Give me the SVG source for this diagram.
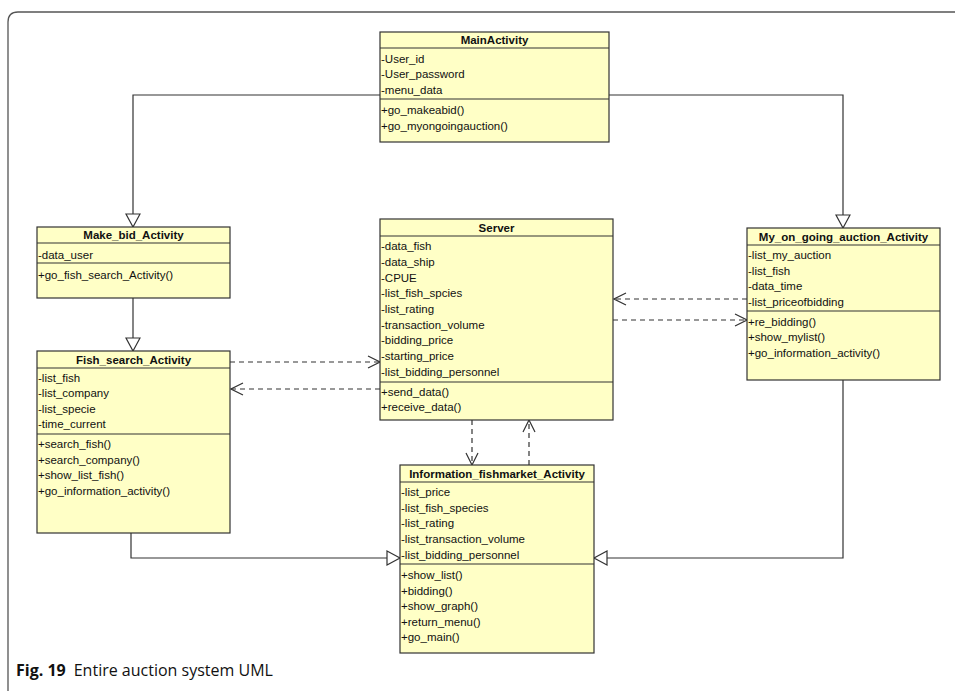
<svg xmlns="http://www.w3.org/2000/svg" width="955" height="691" viewBox="0 0 955 691">
<defs>
<style>
.box{fill:#ffffc6;stroke:#333;stroke-width:1.2}
.sep{stroke:#333;stroke-width:1.2}
.t{font-family:"Liberation Sans",Arial,sans-serif;font-size:11.5px;fill:#111}
.h{font-family:"Liberation Sans",Arial,sans-serif;font-size:11.5px;font-weight:bold;fill:#111;text-anchor:middle}
.ln{fill:none;stroke:#333;stroke-width:1.2}
.dl{fill:none;stroke:#333;stroke-width:1.2;stroke-dasharray:5,4}
.cap{font-family:"Open Sans","Liberation Sans",sans-serif;font-size:16px;fill:#111}
</style>
<marker id="gen" markerWidth="16" markerHeight="16" refX="14" refY="8" orient="auto" markerUnits="userSpaceOnUse">
<path d="M1,1 L14,8 L1,15 Z" fill="#fff" stroke="#333" stroke-width="1.2"/>
</marker>
<marker id="dep" markerWidth="14" markerHeight="14" refX="13" refY="7" orient="auto" markerUnits="userSpaceOnUse">
<path d="M1,1 L13,7 L1,13" fill="none" stroke="#333" stroke-width="1.2"/>
</marker>
</defs>
<rect width="955" height="691" fill="#fff"/>
<path d="M8,691 L8,22 Q8,12 18,12 L955,12" fill="none" stroke="#555" stroke-width="1.3"/>

<g id="connectors">
<path class="ln" d="M380,95 L133,95 L133,227" marker-end="url(#gen)"/>
<path class="ln" d="M609,95 L843,95 L843,228" marker-end="url(#gen)"/>
<path class="ln" d="M133,298 L133,351" marker-end="url(#gen)"/>
<path class="ln" d="M131,533 L131,558 L400,558" marker-end="url(#gen)"/>
<path class="ln" d="M843,380 L843,558 L594,558" marker-end="url(#gen)"/>
<path class="dl" d="M230,362 L380,362" marker-end="url(#dep)"/>
<path class="dl" d="M380,389 L231,389" marker-end="url(#dep)"/>
<path class="dl" d="M747,299 L614,299" marker-end="url(#dep)"/>
<path class="dl" d="M613,320 L747,320" marker-end="url(#dep)"/>
<path class="dl" d="M472,420 L472,465" marker-end="url(#dep)"/>
<path class="dl" d="M529,465 L529,420" marker-end="url(#dep)"/>
</g>

<g id="MainActivity">
<rect class="box" x="380" y="32" width="229" height="110"/>
<line class="sep" x1="380" y1="48" x2="609" y2="48"/>
<line class="sep" x1="380" y1="99" x2="609" y2="99"/>
<text class="h" x="494.5" y="44">MainActivity</text>
<text class="t" x="381" y="63">-User_id</text>
<text class="t" x="381" y="78">-User_password</text>
<text class="t" x="381" y="94">-menu_data</text>
<text class="t" x="381" y="114">+go_makeabid()</text>
<text class="t" x="381" y="130">+go_myongoingauction()</text>
</g>

<g id="Make_bid_Activity">
<rect class="box" x="37" y="227" width="193" height="71"/>
<line class="sep" x1="37" y1="243" x2="230" y2="243"/>
<line class="sep" x1="37" y1="263" x2="230" y2="263"/>
<text class="h" x="133.5" y="239">Make_bid_Activity</text>
<text class="t" x="38" y="259">-data_user</text>
<text class="t" x="38" y="279">+go_fish_search_Activity()</text>
</g>

<g id="Server">
<rect class="box" x="380" y="219" width="233" height="201"/>
<line class="sep" x1="380" y1="236" x2="613" y2="236"/>
<line class="sep" x1="380" y1="382" x2="613" y2="382"/>
<text class="h" x="496.5" y="232">Server</text>
<text class="t" x="381" y="250">-data_fish</text>
<text class="t" x="381" y="266">-data_ship</text>
<text class="t" x="381" y="282">-CPUE</text>
<text class="t" x="381" y="297">-list_fish_spcies</text>
<text class="t" x="381" y="313">-list_rating</text>
<text class="t" x="381" y="329">-transaction_volume</text>
<text class="t" x="381" y="344">-bidding_price</text>
<text class="t" x="381" y="360">-starting_price</text>
<text class="t" x="381" y="376">-list_bidding_personnel</text>
<text class="t" x="381" y="396">+send_data()</text>
<text class="t" x="381" y="411">+receive_data()</text>
</g>

<g id="My_on_going_auction_Activity">
<rect class="box" x="747" y="228" width="193" height="152"/>
<line class="sep" x1="747" y1="245" x2="940" y2="245"/>
<line class="sep" x1="747" y1="311" x2="940" y2="311"/>
<text class="h" x="843.5" y="241">My_on_going_auction_Activity</text>
<text class="t" x="748" y="259">-list_my_auction</text>
<text class="t" x="748" y="275">-list_fish</text>
<text class="t" x="748" y="290">-data_time</text>
<text class="t" x="748" y="306">-list_priceofbidding</text>
<text class="t" x="748" y="326">+re_bidding()</text>
<text class="t" x="748" y="341">+show_mylist()</text>
<text class="t" x="748" y="357">+go_information_activity()</text>
</g>

<g id="Fish_search_Activity">
<rect class="box" x="37" y="351" width="193" height="182"/>
<line class="sep" x1="37" y1="368" x2="230" y2="368"/>
<line class="sep" x1="37" y1="434" x2="230" y2="434"/>
<text class="h" x="133.5" y="364">Fish_search_Activity</text>
<text class="t" x="38" y="382">-list_fish</text>
<text class="t" x="38" y="397">-list_company</text>
<text class="t" x="38" y="413">-list_specie</text>
<text class="t" x="38" y="428">-time_current</text>
<text class="t" x="38" y="448">+search_fish()</text>
<text class="t" x="38" y="464">+search_company()</text>
<text class="t" x="38" y="479">+show_list_fish()</text>
<text class="t" x="38" y="495">+go_information_activity()</text>
</g>

<g id="Information_fishmarket_Activity">
<rect class="box" x="400" y="465" width="194" height="188"/>
<line class="sep" x1="400" y1="482" x2="594" y2="482"/>
<line class="sep" x1="400" y1="564" x2="594" y2="564"/>
<text class="h" x="497" y="478">Information_fishmarket_Activity</text>
<text class="t" x="401" y="496">-list_price</text>
<text class="t" x="401" y="512">-list_fish_species</text>
<text class="t" x="401" y="527">-list_rating</text>
<text class="t" x="401" y="543">-list_transaction_volume</text>
<text class="t" x="401" y="559">-list_bidding_personnel</text>
<text class="t" x="401" y="579">+show_list()</text>
<text class="t" x="401" y="595">+bidding()</text>
<text class="t" x="401" y="610">+show_graph()</text>
<text class="t" x="401" y="626">+return_menu()</text>
<text class="t" x="401" y="641">+go_main()</text>
</g>

<text class="cap" x="16" y="676"><tspan font-weight="bold">Fig. 19</tspan><tspan dx="8">Entire auction system UML</tspan></text>
</svg>
